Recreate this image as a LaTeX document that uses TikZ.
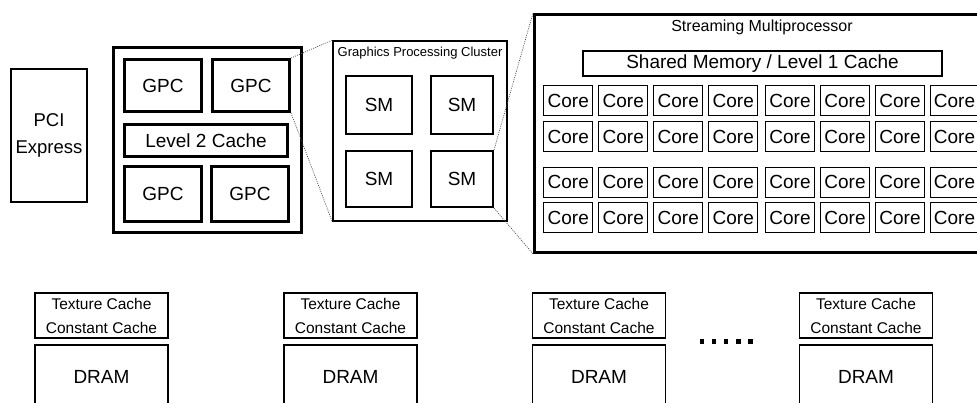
\documentclass[tikz,border=0pt]{standalone}
\usepackage{fontspec}
\setmainfont{Liberation Sans}
\begin{document}
\begin{tikzpicture}[x=1pt,y=-1pt,
  bx/.style 2 args={draw, rectangle, inner sep=0pt, minimum width=#1pt, minimum height=#2pt},
  big/.style={font=\fontsize{19}{23}\selectfont},
  heavy/.style={line width=3pt},
  zoomline/.style={draw=black!70, line width=0.7pt, dash pattern=on 1pt off 1.2pt},
  corebox/.style={bx={49}{30}, line width=1pt, big},
  texbox/.style={bx={133}{45}, line width=1.5pt, align=center, font=\fontsize{15.5}{24}\selectfont},
  drambox/.style={bx={133}{64}, line width=1.5pt, big}]
\useasboundingbox (0,0) rectangle (977,403);
\clip (0,0) rectangle (977,403);
% PCI and GPU
\node[bx={76}{133}, line width=2pt, align=center, font=\fontsize{18.5}{27}\selectfont] (pci) at (49,135.5) {PCI\\Express};
\node[bx={188}{185}, line width=2.5pt] (gpu) at (207.5,140) {};
\node[bx={77}{52}, heavy, big] (gpc1) at (163,85.5) {GPC};
\node[bx={77}{52}, heavy, big] (gpc2) at (251,85.5) {GPC};
\node[bx={163}{32}, heavy, big] (l2) at (206,140.5) {Level 2 Cache};
\node[bx={77}{55}, heavy, big] (gpc3) at (163,194) {GPC};
\node[bx={77}{55}, heavy, big] (gpc4) at (250,194) {GPC};
% Graphics Processing Cluster
\node[bx={174}{180}, line width=1.5pt] (gpcl) at (420,131) {};
\node[inner sep=0pt, font=\fontsize{13}{15}\selectfont] (gpclt) at (420,53) {Graphics Processing Cluster};
\node[bx={66}{58}, line width=2pt, big] (sm1) at (379,105) {SM};
\node[bx={62}{58}, line width=2pt, big] (sm2) at (462,105) {SM};
\node[bx={66}{56}, line width=2pt, big] (sm3) at (379,179) {SM};
\node[bx={62}{56}, line width=2pt, big] (sm4) at (462,179) {SM};
% Streaming Multiprocessor
\node[bx={455}{238}, line width=3pt] (smb) at (762,133.5) {};
\node[inner sep=0pt, font=\fontsize{16}{18}\selectfont] (smbt) at (762,27) {Streaming Multiprocessor};
\node[bx={359}{25}, line width=2pt, big] (shm) at (762.5,63.5) {Shared Memory / Level 1 Cache};
\foreach \c/\cx in {1/568.3,2/623.3,3/678.3,4/733.3,5/790,6/845,7/900,8/954.5}{
  \foreach \r/\ry in {1/100.5,2/137,3/182.3,4/217.8}{
    \node[corebox] (core-\r-\c) at (\cx,\ry) {Core};
  }
}
% zoom lines
\draw[zoomline] (gpc2.north east) -- (gpcl.north west);
\draw[zoomline] (gpc2.south east) -- (gpcl.south west);
\draw[zoomline] (sm4.north east) -- (smb.north west);
\draw[zoomline] (sm4.south east) -- (smb.south west);
% memory partitions
\foreach \i/\cx in {1/101.5,2/350.5,3/599,4/866}{
  \node[texbox] (tex-\i) at (\cx,315.5) {Texture Cache\\Constant Cache};
  \node[drambox] (dram-\i) at (\cx,377) {DRAM};
}
\foreach \i in {0,...,4}
  \fill (700+\i*12.1,339.3) rectangle +(4.2,5);
\end{tikzpicture}
\end{document}
